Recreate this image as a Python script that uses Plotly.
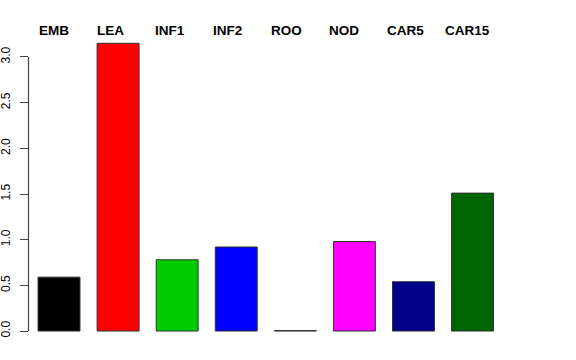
import plotly.graph_objects as go

categories = ["EMB", "LEA", "INF1", "INF2", "ROO", "NOD", "CAR5", "CAR15"]
values = [0.59, 3.15, 0.78, 0.92, 0.005, 0.98, 0.54, 1.51]
colors = ["#000000", "#FF0000", "#00CD00", "#0000FF", "#00FFFF", "#FF00FF", "#00008B", "#006400"]
ytick_vals = [0.0, 0.5, 1.0, 1.5, 2.0, 2.5, 3.0]
y_range = [-0.12, 3.186]

PLOT_W = 576 - 29 - 68

fig = go.Figure()
fig.add_trace(go.Bar(
    x=categories, y=values,
    marker=dict(color=colors, line=dict(color="#333333", width=1)),
    width=0.71,
))

span = y_range[1] - y_range[0]
fig.add_shape(type="line", xref="paper", yref="paper",
              x0=-0.5 / PLOT_W, x1=-0.5 / PLOT_W,
              y0=(ytick_vals[0] - y_range[0]) / span,
              y1=(ytick_vals[-1] - y_range[0]) / span,
              line=dict(color="#444444", width=1.2))

# top labels, left-aligned (as in the reference)
for i, name in enumerate(categories):
    fig.add_annotation(
        x=-0.3775 + 0.9819 * i, xref="x", xanchor="left",
        y=1, yref="paper", yanchor="bottom", yshift=0,
        text=name, showarrow=False,
        font=dict(size=13.5, family="Liberation Sans, Arial, sans-serif", weight="bold", color="black"),
    )

fig.update_layout(
    width=576, height=360,
    margin=dict(l=29, r=68, t=40, b=18),
    paper_bgcolor="white", plot_bgcolor="white",
    showlegend=False,
    font=dict(family="Liberation Sans, Arial, sans-serif", color="black"),
    xaxis=dict(
        type="category",
        range=[-0.508, 7.6],
        automargin=False,
        showgrid=False, zeroline=False, showline=False,
        ticks="", showticklabels=False,
    ),
    yaxis=dict(
        range=y_range,
        automargin=False,
        tickvals=ytick_vals, tickformat=".1f",
        ticks="outside", ticklen=8, tickcolor="#444444",
        tickangle=-90,
        ticklabelstandoff=5,
        showgrid=False, zeroline=False, showline=False,
        tickfont=dict(size=12),
    ),
)

fig.write_html("out.html", post_script="document.body.style.margin='0px';",
               config={"displayModeBar": False})
